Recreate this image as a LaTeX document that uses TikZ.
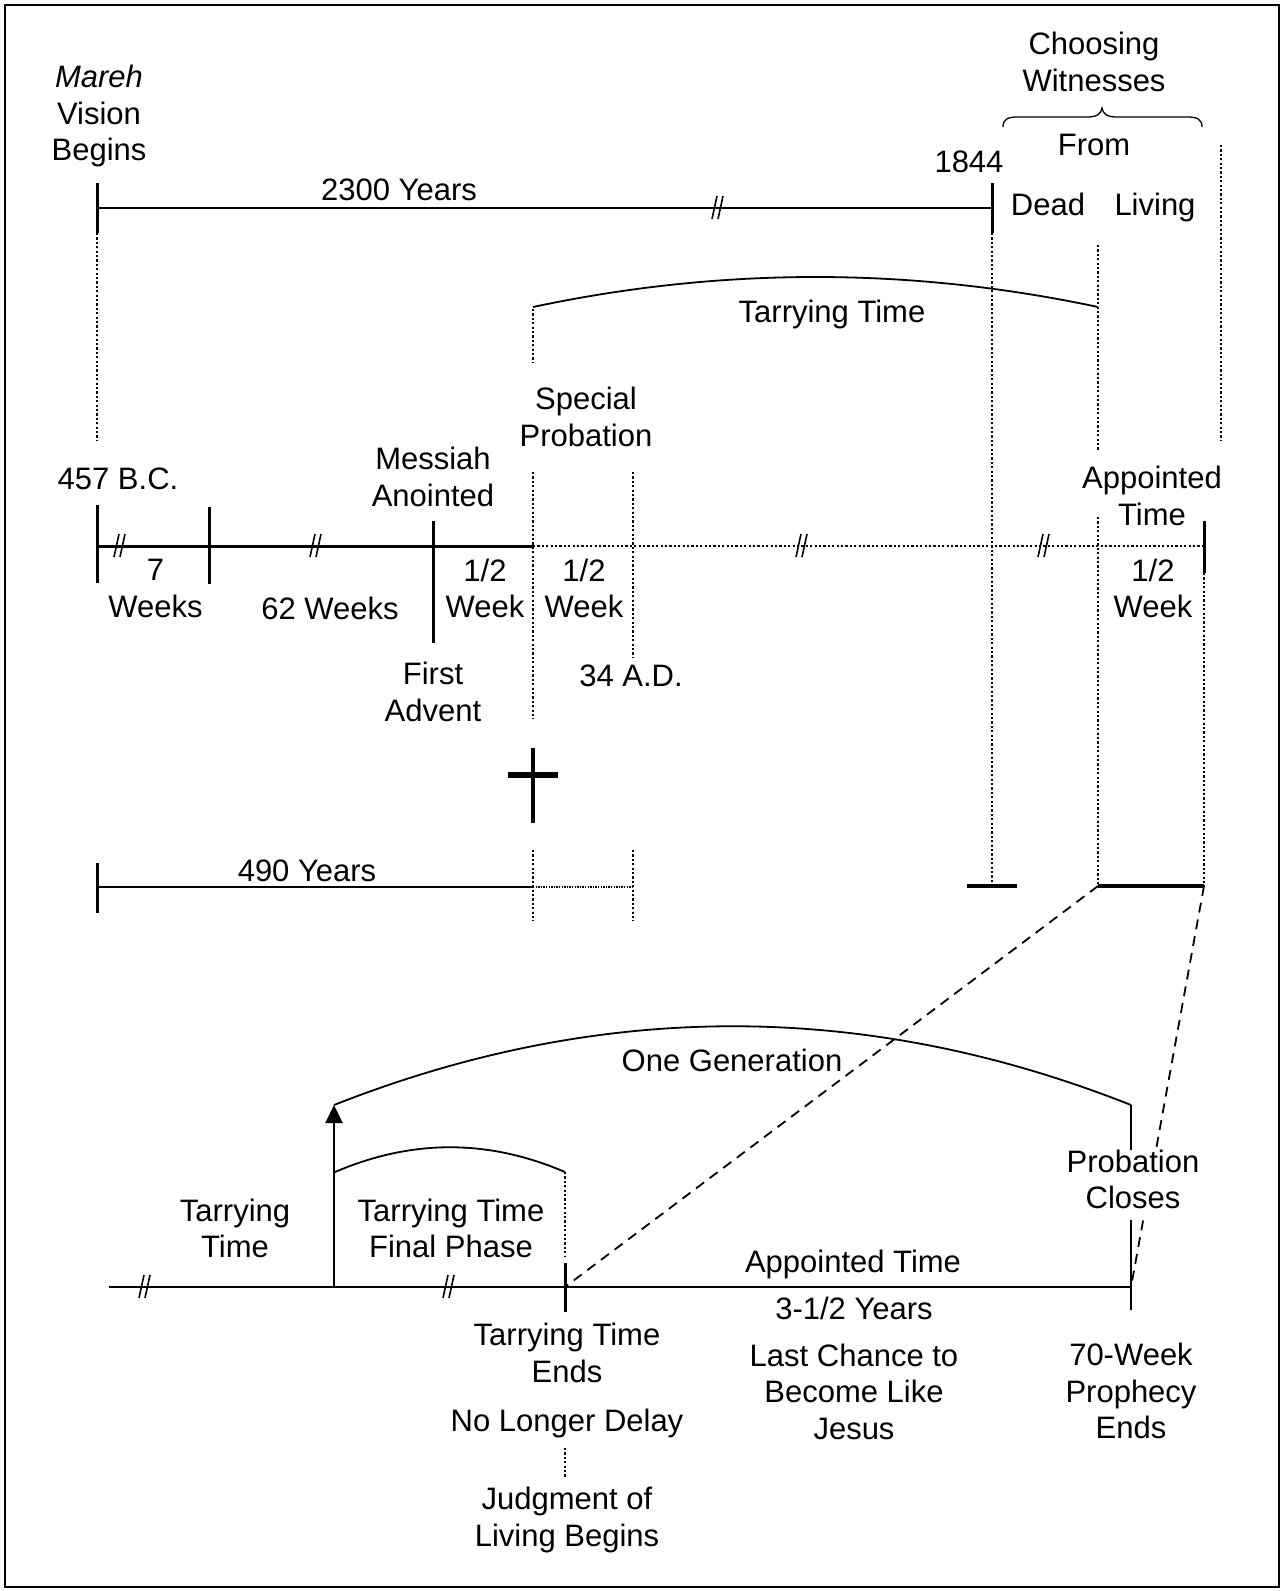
\documentclass[tikz,border=0pt]{standalone}
\usepackage{fontspec}
\setmainfont{Liberation Sans}
\usetikzlibrary{arrows.meta}
\newcommand\lblfont{\fontsize{31}{36.5}\selectfont}
\begin{document}
\begin{tikzpicture}[x=1pt,y=-1pt,
  lbl/.style={font=\lblfont, align=center, inner sep=0pt, yshift=-3.7pt,
    execute at begin node=\strut, execute at end node=\strut},
  thinline/.style={line width=1.8pt},
  tickline/.style={line width=3pt},
  dotline/.style={line width=2.4pt, dash pattern=on 2.2pt off 2.2pt},
  densedot/.style={line width=2.8pt, dash pattern=on 1.4pt off 1.2pt},
  dashline/.style={line width=1.8pt, dash pattern=on 10pt off 7pt},
  brk/.pic={\draw[line width=1.6pt] (-6,11) -- (-1,-12) (0,11) -- (5,-12);}
]
\useasboundingbox (0,0) rectangle (1283,1591);
\draw[line width=2.5pt] (5,5) rectangle (1279,1587);

% ---------- key coordinates ----------
\coordinate (A0) at (97,208);   \coordinate (A1) at (992,208);
\coordinate (M0) at (97,546);   \coordinate (Mx) at (533,546); \coordinate (M1) at (1204,546);
\coordinate (L0) at (97,887);   \coordinate (Lx) at (533,887); \coordinate (L1) at (633,887);
\coordinate (B0) at (109,1287); \coordinate (Bu) at (334,1287); \coordinate (Bt) at (565,1287); \coordinate (B1) at (1131,1287);
\coordinate (G0) at (334,1105); \coordinate (G1) at (1131,1105);
\coordinate (F0) at (335,1172); \coordinate (F1) at (565,1172);
\coordinate (T0) at (533,307);  \coordinate (T1) at (1098,307);
\coordinate (P0) at (1098,886); \coordinate (P1) at (1204,886);

% ---------- top: 2300 years ----------
\node[lbl] (mareh) at (99,115) {\textit{Mareh}\\Vision\\Begins};
\node[lbl] (y2300) at (399,189) {2300 Years};
\node[lbl] (y1844) at (969,161) {1844};
\node[lbl] (choose) at (1094,63.5) {Choosing\\Witnesses};
\node[lbl] (from) at (1094,144) {From};
\node[lbl] (dead) at (1048,204) {Dead};
\node[lbl] (living) at (1155,204) {Living};

\draw[thinline] (A0) -- (A1);
\draw[tickline] (97,183) -- (97,233);
\draw[tickline] (992,183) -- (992,233);
\pic at (718,208) {brk};
\draw[dotline] (97,233) -- (97,440);
\draw[dotline] (992,233) -- (992,886);
\draw[line width=1.3pt] (1003,127) .. controls (1003,119) and (1008,117) .. (1018,117) -- (1087,117)
  .. controls (1097,117) and (1101,114) .. (1102,108)
  .. controls (1103,114) and (1107,117) .. (1117,117) -- (1187,117)
  .. controls (1197,117) and (1202,119) .. (1202,127);
\draw[dotline] (1098,245) -- (1098,450);
\draw[dotline] (1098,517) -- (P0);
\draw[dotline] (1221,145) -- (1221,440);

% tarrying time arc
\draw[thinline] (T0) .. controls (721,267) and (910,267) .. (T1);
\draw[dotline] (533,309) -- (533,362);
\node[lbl] (tarry1) at (832,311) {Tarrying Time};
\node[lbl] (special) at (586,418.5) {Special\\Probation};

% ---------- middle: 70 weeks ----------
\node[lbl] (bc) at (118,478) {457 B.C.};
\node[lbl] (messiah) at (433,478.5) {Messiah\\Anointed};
\node[lbl] (w7) at (155.5,590) {7\\Weeks};
\node[lbl] (w62) at (330,608) {62 Weeks};
\node[lbl] (hw1) at (485,590) {1/2\\Week};
\node[lbl] (hw2) at (584,590) {1/2\\Week};
\node[lbl] (advent) at (433,693.5) {First\\Advent};
\node[lbl] (ad34) at (631,675) {34 A.D.};
\node[lbl] (appt) at (1152,497.5) {Appointed\\Time};
\node[lbl] (hw3) at (1153,590) {1/2\\Week};

\draw[tickline] (M0) -- (Mx);
\draw[dotline] (Mx) -- (M1);
\draw[tickline] (97,505) -- (97,583);
\draw[tickline] (209,507) -- (209,584);
\draw[tickline] (433,521) -- (433,643);
\draw[tickline] (1204,521) -- (1204,573);
\draw[dotline] (1204,573) -- (P1);
\draw[dotline] (533,472) -- (533,719);
\draw[dotline] (633,472) -- (633,657);
\pic at (120,546) {brk};
\pic at (316,546) {brk};
\pic at (802,546) {brk};
\pic at (1044,546) {brk};

% cross
\draw[line width=4pt] (533,748) -- (533,823);
\draw[line width=5.5pt] (508,775) -- (558,775);

% ---------- 490 years ----------
\node[lbl] (y490) at (307,870) {490 Years};
\draw[thinline] (L0) -- (Lx);
\draw[densedot] (Lx) -- (L1);
\draw[tickline] (97,863) -- (97,913);
\draw[dotline] (533,850) -- (533,921);
\draw[dotline] (633,850) -- (633,921);
\draw[line width=3.5pt] (967,886) -- (1017,886);
\draw[line width=3.5pt] (P0) -- (P1);

% ---------- bottom: appointed time ----------
\draw[dashline] (P0) -- (Bt);
\draw[dashline] (P1) -- (B1);
\draw[line width=2.2pt] (B0) -- (B1);
\pic at (145,1287) {brk};
\pic at (449,1287) {brk};
\draw[line width=2.2pt, -{Triangle[length=18pt,width=17pt]}] (Bu) -- (G0);
\draw[thinline] (G0) .. controls (600,1000) and (866,1000) .. (G1);
\draw[line width=2.5pt] (G1) -- (1131,1310);
\draw[thinline] (F0) .. controls (412,1139) and (488,1139) .. (F1);
\draw[dotline] (F1) -- (565,1257);
\draw[tickline] (565,1263) -- (565,1312);
\draw[dotline] (565,1448) -- (565,1477);

\node[lbl] (gen) at (732,1060) {One Generation};
\node[lbl] (tarry2) at (235,1230) {Tarrying\\Time};
\node[lbl] (final) at (451,1230) {Tarrying Time\\Final Phase};
\node[lbl, fill=white] (probc) at (1133,1181) {Probation\\Closes};
\node[lbl] (apptime) at (853,1261) {Appointed Time};
\node[lbl] (y35) at (854,1308) {3-1/2 Years};
\node[lbl] (last) at (854,1393.5) {Last Chance to\\Become Like\\Jesus};
\node[lbl] (ttends) at (567,1354.5) {Tarrying Time\\Ends};
\node[lbl] (delay) at (567,1420) {No Longer Delay};
\node[lbl] (judg) at (567,1518.5) {Judgment of\\Living Begins};
\node[lbl] (seventy) at (1131,1393) {70-Week\\Prophecy\\Ends};
\end{tikzpicture}
\end{document}
